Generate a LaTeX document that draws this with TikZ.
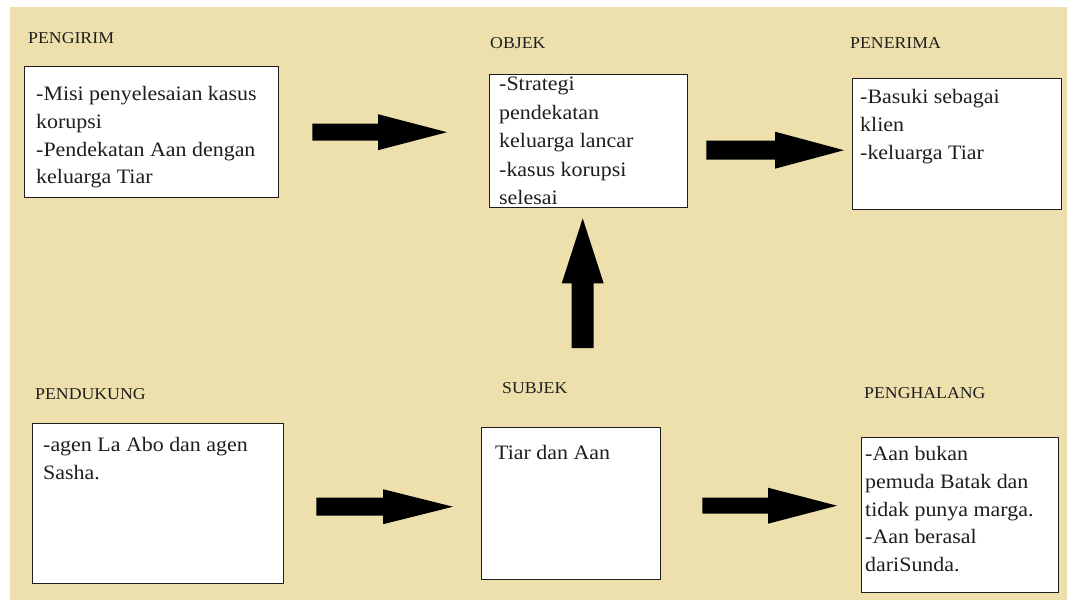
\documentclass[tikz,border=0pt]{standalone}
\usepackage{fontspec}
\setmainfont{Liberation Serif}[FakeStretch=1.07]
\usetikzlibrary{calc}

\definecolor{paper}{RGB}{237,224,172}
\definecolor{ink}{RGB}{30,30,30}

\tikzset{
  panel/.style={draw=ink, line width=1.4pt, fill=white, inner sep=0pt, anchor=north west},
  heading/.style={font=\fontsize{16.6}{20}\selectfont, text=ink, anchor=base west, inner sep=0pt},
  % the first line is given a fixed height of 16pt, so the node's top sits 16pt above its first baseline
  body/.style={font=\fontsize{20.5}{27.8}\selectfont, text=ink, anchor=north west, inner sep=0pt,
    align=left, execute at begin node={\rule{0pt}{16pt}}},
  arrowfill/.style={fill=black},
}

% block arrow: start, tip, half shaft width, half head width, head length
\newcommand{\blockarrow}[5]{%
  \coordinate (ba-b) at ($(#2)!#5!(#1)$);
  \fill[arrowfill] ($(#1)!#3!90:(#2)$) -- ($(ba-b)!#3!-90:(#1)$)
    -- ($(ba-b)!#4!-90:(#1)$) -- (#2) -- ($(ba-b)!#4!90:(#1)$)
    -- ($(ba-b)!#3!90:(#1)$) -- ($(#1)!#3!-90:(#2)$) -- cycle;}

\begin{document}
\begin{tikzpicture}[x=1pt,y=-1pt]
\useasboundingbox (0,0) rectangle (1067,606);
\fill[white] (0,0) rectangle (1067,606);
\fill[paper] (10,7) rectangle (1067,600);

% panels
\node[panel, minimum width=254pt, minimum height=131pt] (pengirim)   at (24,66)   {};
\node[panel, minimum width=198pt, minimum height=133pt] (objek)      at (489,74)  {};
\node[panel, minimum width=209pt, minimum height=131pt] (penerima)   at (852,78)  {};
\node[panel, minimum width=251pt, minimum height=160pt] (pendukung)  at (32,423)  {};
\node[panel, minimum width=179pt, minimum height=152pt] (subjek)     at (481,427) {};
\node[panel, minimum width=197pt, minimum height=155pt] (penghalang) at (861,437) {};

% headings
\node[heading] (h-pengirim)   at (28,43)  {PENGIRIM};
\node[heading] (h-objek)      at (490,48) {OBJEK};
\node[heading] (h-penerima)   at (850,48) {PENERIMA};
\node[heading] (h-pendukung)  at (35,399) {PENDUKUNG};
\node[heading] (h-subjek)     at (502,393) {SUBJEK};
\node[heading] (h-penghalang) at (864,398) {PENGHALANG};

% panel contents (top = first baseline - 16)
\node[body] (t-pengirim) at (36,86)
  {-Misi penyelesaian kasus\\korupsi\\-Pendekatan Aan dengan\\keluarga Tiar};
\node[body, font=\fontsize{20.5}{28.5}\selectfont] (t-objek) at (499,77)
  {-Strategi\\pendekatan\\keluarga lancar\\-kasus korupsi\\selesai};
\node[body] (t-penerima) at (860,89)
  {-Basuki sebagai\\klien\\-keluarga Tiar};
\node[body] (t-pendukung) at (43,437)
  {-agen La Abo dan agen\\Sasha.};
\node[body] (t-subjek) at (495,443) {Tiar dan Aan};
\node[body] (t-penghalang) at (865,446)
  {-Aan bukan\\pemuda Batak dan\\tidak punya marga.\\-Aan berasal\\dariSunda.};

% arrow end points
\coordinate (a1s) at ($(pengirim.east)+(33,0)$);
\coordinate (a1e) at ($(pengirim.east -| objek.west)+(-42,0)$);
\coordinate (a2s) at ($(objek.east)+(18,9)$);
\coordinate (a2e) at ($(objek.east -| penerima.west)+(-8,9)$);
\coordinate (a3s) at ($(subjek.north)+(11.5,-79)$);
\coordinate (a3e) at ($(objek.south)+(-6,10)$);
\coordinate (a4s) at ($(pendukung.east)+(32,3)$);
\coordinate (a4e) at ($(pendukung.east -| subjek.west)+(-28,3)$);
\coordinate (a5s) at ($(subjek.east)+(41,2)$);
\coordinate (a5e) at ($(subjek.east -| penghalang.west)+(-24,2)$);

% arrows
\blockarrow{a1s}{a1e}{8.5pt}{18pt}{69pt}
\blockarrow{a2s}{a2e}{9.5pt}{18.5pt}{69pt}
\blockarrow{a3s}{a3e}{11pt}{21pt}{65pt}
\blockarrow{a4s}{a4e}{9pt}{17.5pt}{70pt}
\blockarrow{a5s}{a5e}{8pt}{18pt}{69pt}
\end{tikzpicture}
\end{document}
